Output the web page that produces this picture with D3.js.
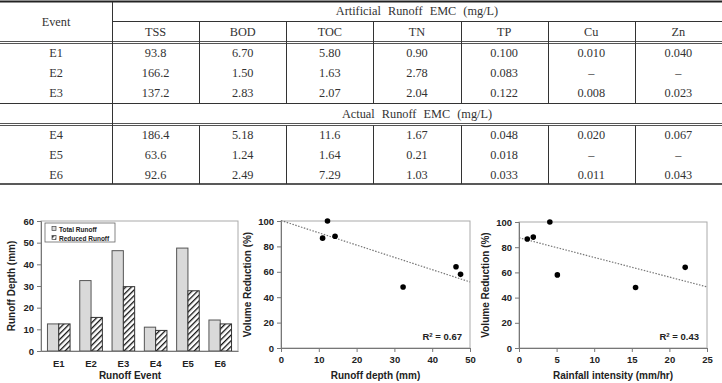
<!DOCTYPE html>
<html>
<head>
<meta charset="utf-8">
<script src="https://cdn.jsdelivr.net/npm/d3@7"></script>
<style>
  body { margin: 0; background: #fff; }
  .tbl text { font-family: "Liberation Serif", "DejaVu Serif", serif; font-size: 12.3px; fill: #333; }
  .chart text { font-family: "Liberation Sans Narrow", "Liberation Sans", Arial, sans-serif; font-weight: bold; fill: #222; }
</style>
</head>
<body>
<div id="fig"></div>
<script>
// ---- table data ----
var params = ["TSS", "BOD", "TOC", "TN", "TP", "Cu", "Zn"];
var artificialEvents = ["E1", "E2", "E3"];
var artificialValues = [
    ["93.8", "6.70", "5.80", "0.90", "0.100", "0.010", "0.040"],
    ["166.2", "1.50", "1.63", "2.78", "0.083", "–", "–"],
    ["137.2", "2.83", "2.07", "2.04", "0.122", "0.008", "0.023"]
];
var actualEvents = ["E4", "E5", "E6"];
var actualValues = [
    ["186.4", "5.18", "11.6", "1.67", "0.048", "0.020", "0.067"],
    ["63.6", "1.24", "1.64", "0.21", "0.018", "–", "–"],
    ["92.6", "2.49", "7.29", "1.03", "0.033", "0.011", "0.043"]
];

// ---- chart data ----
var events = ["E1", "E2", "E3", "E4", "E5", "E6"];
var totalRunoff = [12.5, 32.5, 46.3, 11.0, 47.5, 14.3];
var reducedRunoff = [12.5, 15.5, 29.7, 9.5, 27.8, 12.5];
var depthTicks = [0, 10, 20, 30, 40, 50, 60];

var runoffDepth = [12.3, 32.3, 46.3, 11.0, 47.5, 14.3];
var volumeReduction = [100, 48, 64, 86.5, 58, 88];
var depthTrend = [[0, 100.4], [50, 52]];
var depthR2 = "0.67";

var rainIntensity = [4.1, 15.5, 22.1, 1.1, 5.1, 1.9];
var intensityTrend = [[0, 87.5], [25, 48.5]];
var intensityR2 = "0.43";

var W = 722, H = 383;
var svg = d3.select("#fig").append("svg").attr("width", W).attr("height", H);

// ================= table =================
var tbl = svg.append("g").attr("class", "tbl");
var colX = d3.scaleBand().domain(params).range([112, 722]);

function hline(y, x1, x2, w, c) {
    tbl.append("line").attr("x1", x1).attr("x2", x2).attr("y1", y).attr("y2", y)
        .attr("stroke", c || "#333").attr("stroke-width", w || 1);
}
function vline(x, y1, y2) {
    tbl.append("line").attr("x1", x).attr("x2", x).attr("y1", y1).attr("y2", y2)
        .attr("stroke", "#333").attr("stroke-width", 1);
}

hline(1.5, 0, W, 2, "#222");
hline(21.5, 112, W);
hline(41.5, 0, W, 1, "#555");
hline(43.5, 0, W, 1, "#555");
hline(103.5, 0, W);
hline(123.5, 0, W, 1, "#555");
hline(125.5, 0, W, 1, "#555");
hline(184, 0, W, 1.5, "#222");

vline(112.5, 2, 184);
params.slice(1).forEach(function(p) {
    var x = Math.round(colX(p)) + 0.5;
    vline(x, 21.5, 103.5);
    vline(x, 125.5, 184);
});

function txt(x, y, s, ws) {
    tbl.append("text").attr("x", x).attr("y", y).attr("text-anchor", "middle")
        .attr("dominant-baseline", "central").style("word-spacing", ws || "0px").text(s);
}

txt(56, 22, "Event");
txt(417, 11, "Artificial Runoff EMC (mg/L)", "4px");
params.forEach(function(p) { txt(colX(p) + colX.bandwidth() / 2, 31.5, p); });
txt(417, 114, "Actual Runoff EMC (mg/L)", "4px");

function block(evts, vals, y0, y1) {
    var rowY = d3.scalePoint().domain(evts).range([y0, y1]);
    evts.forEach(function(e, i) {
        txt(56, rowY(e), e);
        params.forEach(function(p, j) {
            txt(colX(p) + colX.bandwidth() / 2, rowY(e), vals[i][j]);
        });
    });
}
block(artificialEvents, artificialValues, 52.5, 93);
block(actualEvents, actualValues, 134.5, 175);

// ================= charts =================
var defs = svg.append("defs");
var pat = defs.append("pattern").attr("id", "hatch").attr("patternUnits", "userSpaceOnUse")
    .attr("width", 4).attr("height", 4).attr("patternTransform", "rotate(45)");
pat.append("rect").attr("width", 4).attr("height", 4).attr("fill", "#fff");
pat.append("line").attr("x1", 0).attr("y1", 0).attr("x2", 0).attr("y2", 4)
    .attr("stroke", "#111").attr("stroke-width", 2.6);

function styleAxis(g) {
    g.selectAll(".domain").attr("stroke", "#777");
    g.selectAll(".tick line").attr("stroke", "#777");
    g.selectAll("text").attr("font-size", 9.5).attr("fill", "#222");
}

function frame(g, x0, x1, y0, y1) {
    g.append("rect").attr("x", x0).attr("y", y0).attr("width", x1 - x0).attr("height", y1 - y0)
        .attr("fill", "none").attr("stroke", "#aaa").attr("stroke-width", 1);
}

// ---- bar chart ----
var bc = svg.append("g").attr("class", "chart");
var bx = d3.scaleBand().domain(events).range([41, 238]).paddingInner(0.3).paddingOuter(0.2);
var bsub = d3.scaleBand().domain(["total", "reduced"]).range([0, bx.bandwidth()]);
var by = d3.scaleLinear().domain([0, 60]).range([351, 221]);

frame(bc, 41, 238, 221, 351);

var groups = bc.selectAll(".grp").data(events).enter().append("g")
    .attr("transform", function(d) { return "translate(" + bx(d) + ",0)"; });
groups.append("rect")
    .attr("x", bsub("total")).attr("width", bsub.bandwidth())
    .attr("y", function(d, i) { return by(totalRunoff[i]); })
    .attr("height", function(d, i) { return by(0) - by(totalRunoff[i]); })
    .attr("fill", "#d9d9d9").attr("stroke", "#555").attr("stroke-width", 1);
groups.append("rect")
    .attr("x", bsub("reduced")).attr("width", bsub.bandwidth())
    .attr("y", function(d, i) { return by(reducedRunoff[i]); })
    .attr("height", function(d, i) { return by(0) - by(reducedRunoff[i]); })
    .attr("fill", "url(#hatch)").attr("stroke", "#333").attr("stroke-width", 1);

bc.append("g").attr("transform", "translate(41,0)")
    .call(d3.axisLeft(by).tickValues(depthTicks).tickSize(4).tickPadding(3))
    .call(styleAxis);
bc.append("g").attr("transform", "translate(0,351)")
    .call(d3.axisBottom(bx).tickSize(0).tickPadding(9))
    .call(styleAxis);

bc.append("text").attr("x", 130).attr("y", 379).attr("text-anchor", "middle")
    .attr("font-size", 10).text("Runoff Event");
bc.append("text").attr("transform", "translate(15,286) rotate(-90)")
    .attr("text-anchor", "middle").attr("font-size", 10).text("Runoff Depth (mm)");

// legend
var lg = bc.append("g");
lg.append("rect").attr("x", 45).attr("y", 223).attr("width", 70).attr("height", 19)
    .attr("fill", "#fff").attr("stroke", "#666").attr("stroke-width", 0.8);
lg.append("rect").attr("x", 52).attr("y", 226.5).attr("width", 4).attr("height", 4)
    .attr("fill", "#d9d9d9").attr("stroke", "#444").attr("stroke-width", 0.7);
lg.append("rect").attr("x", 52).attr("y", 235.5).attr("width", 4).attr("height", 4)
    .attr("fill", "url(#hatch)").attr("stroke", "#444").attr("stroke-width", 0.7);
lg.append("text").attr("x", 59).attr("y", 231.5).attr("font-size", 6.5)
    .attr("font-weight", "normal").style("fill", "#222").text("Total Runoff");
lg.append("text").attr("x", 59).attr("y", 240.5).attr("font-size", 6.5)
    .attr("font-weight", "normal").style("fill", "#222").text("Reduced Runoff");

// ---- scatter charts ----
function scatter(opts) {
    var g = svg.append("g").attr("class", "chart");
    var x = d3.scaleLinear().domain(opts.xDomain).range([opts.x0, opts.x1]);
    var y = d3.scaleLinear().domain([0, 100]).range([opts.y1, opts.y0]);
    frame(g, opts.x0, opts.x1, opts.y0, opts.y1);

    g.append("line")
        .attr("x1", x(opts.trend[0][0])).attr("y1", y(opts.trend[0][1]))
        .attr("x2", x(opts.trend[1][0])).attr("y2", y(opts.trend[1][1]))
        .attr("stroke", "#777").attr("stroke-width", 1.2).attr("stroke-dasharray", "1.5,1.5");

    g.selectAll("circle").data(opts.xs).enter().append("circle")
        .attr("cx", function(d) { return x(d); })
        .attr("cy", function(d, i) { return y(opts.ys[i]); })
        .attr("r", 2.8).attr("fill", "#000");

    g.append("g").attr("transform", "translate(" + opts.x0 + ",0)")
        .call(d3.axisLeft(y).tickValues([0, 20, 40, 60, 80, 100]).tickSize(4).tickPadding(3))
        .call(styleAxis);
    g.append("g").attr("transform", "translate(0," + opts.y1 + ")")
        .call(d3.axisBottom(x).ticks(5).tickSize(4).tickPadding(4))
        .call(styleAxis);

    g.append("text").attr("x", (opts.x0 + opts.x1) / 2).attr("y", 379)
        .attr("text-anchor", "middle").attr("font-size", 10).text(opts.xTitle);
    g.append("text").attr("transform", "translate(" + (opts.x0 - 30) + "," + ((opts.y0 + opts.y1) / 2) + ") rotate(-90)")
        .attr("text-anchor", "middle").attr("font-size", 10).text("Volume Reduction (%)");

    var r = g.append("text").attr("x", opts.x1 - 8).attr("y", opts.y1 - 8)
        .attr("text-anchor", "end").attr("font-size", 9.5);
    r.append("tspan").text("R");
    r.append("tspan").attr("dy", -3.5).attr("font-size", 6).text("2");
    r.append("tspan").attr("dy", 3.5).text(" = " + opts.r2);
}

scatter({ x0: 281, x1: 470, y0: 221, y1: 348, xDomain: [0, 50],
    xs: runoffDepth, ys: volumeReduction, trend: depthTrend, r2: depthR2,
    xTitle: "Runoff depth (mm)" });
scatter({ x0: 519, x1: 707, y0: 222, y1: 348, xDomain: [0, 25],
    xs: rainIntensity, ys: volumeReduction, trend: intensityTrend, r2: intensityR2,
    xTitle: "Rainfall intensity (mm/hr)" });
</script>
</body>
</html>
